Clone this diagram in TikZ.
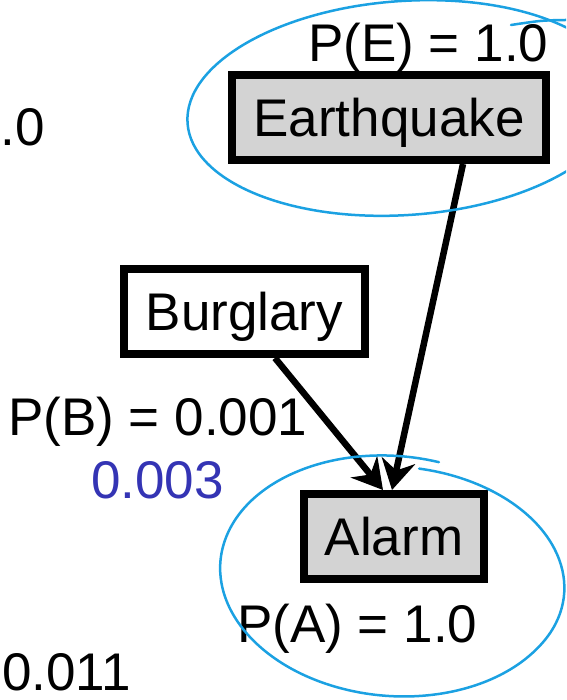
\documentclass[tikz,border=0pt]{standalone}
\usepackage{fontspec}
\setmainfont{Liberation Sans}
\usepackage{xcolor}
\definecolor{sketchblue}{HTML}{1BA1E2}
\definecolor{marginal}{HTML}{3434B4}
\definecolor{evidence}{HTML}{D3D3D3}
\usetikzlibrary{arrows.meta}

\begin{document}
\begin{tikzpicture}[x=1pt,y=-1pt,
  every node/.style={font=\fontsize{53}{60}\selectfont, inner sep=0pt},
  var/.style={draw, line width=8pt, minimum width=#1, minimum height=85pt,
              text height=38pt, text depth=0pt},
  prob/.style={anchor=base west},
  link/.style={line width=6.5pt, -{Stealth[length=30pt, width=34pt, inset=10pt]}},
  halo/.style={draw=sketchblue, line width=2.5pt, line cap=round}]
  \clip (0,0) rectangle (566,700);
  % Network: two causes feeding the alarm.
  \node[var=314pt, fill=evidence] (quake)    at (389,117.5) {Earthquake};
  \node[var=241pt, fill=white]    (burglary) at (244.5,311.5) {Burglary};
  \node[var=180pt, fill=evidence] (alarm)    at (394,536.5) {Alarm};
  \draw[link] ([xshift=74pt]quake.south) -- ([xshift=-2pt]alarm.north);
  \draw[link] ([xshift=30.5pt]burglary.south) -- ([xshift=-11pt]alarm.north);
  % Probabilities.
  \node[prob] (pquake) at (308,62) {P(E) = 1.0};
  \node[prob, anchor=base east] (pleft) at (45,146) {.0};
  \node[prob] (pburglary) at (8,435) {P(B) = 0.001};
  \node[prob, text=marginal] (pupdate) at (91,498) {0.003};
  \node[prob] (palarm) at (237,642) {P(A) = 1.0};
  \node[prob] (plow) at (2,690) {0.011};
  % Hand-drawn rings round the evidence.
  \draw[halo, rotate around={4:(405,108)}] (405,108) ellipse [x radius=218pt, y radius=107pt];
  \draw[halo] plot[smooth] coordinates {(511,25) (540,21) (566,20) (590,21)};
  \draw[halo, rotate around={-5:(393,576)}] (428.8,458.6)
    arc[start angle=78, end angle=330, x radius=173pt, y radius=120pt]
    arc[start angle=330, end angle=446, x radius=167pt, y radius=113pt];
\end{tikzpicture}
\end{document}
